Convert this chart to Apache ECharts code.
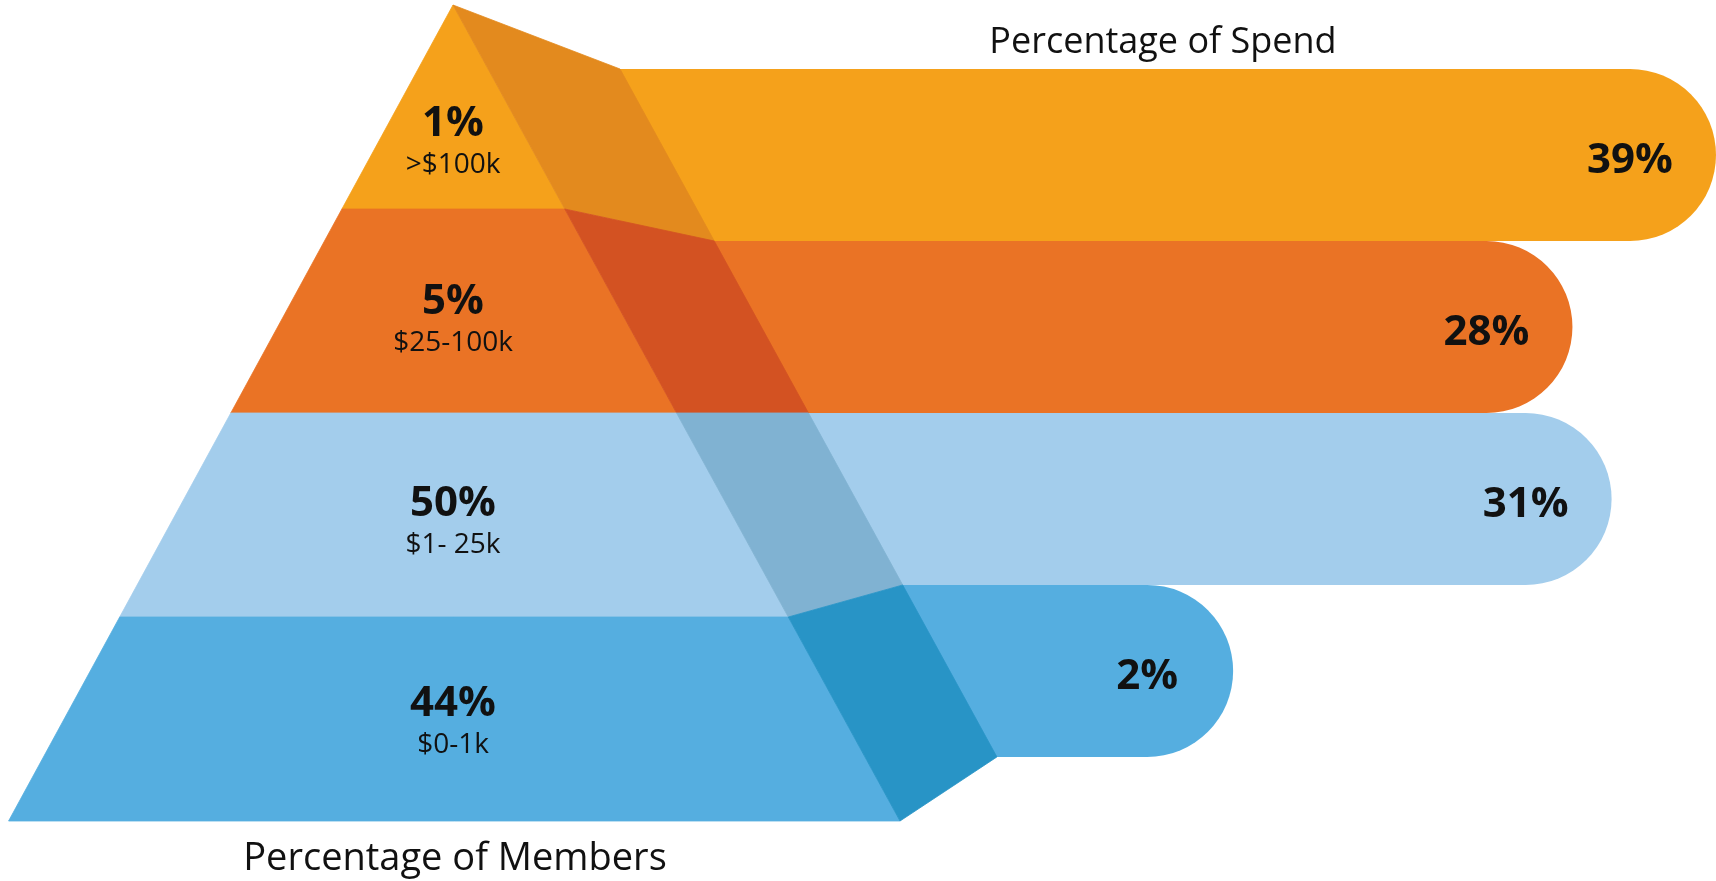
<!DOCTYPE html>
<html>
<head>
<meta charset="utf-8">
<script src="https://cdn.jsdelivr.net/npm/echarts@6/dist/echarts.min.js"></script>
<style>
html, body { margin: 0; padding: 0; background: #ffffff; }
#chart { width: 1716px; height: 881px; }
</style>
</head>
<body>
<div id="chart"></div>
<script>
// ---------------- data ----------------
const tierRanges = ['>$100k', '$25-100k', '$1- 25k', '$0-1k'];
const memberPct = [1, 5, 50, 44];
const spendPct = [39, 28, 31, 2];
const memberTitle = 'Percentage of Members';
const spendTitle = 'Percentage of Spend';

// ---------------- styles / layout ----------------
const frontColors = ['#F5A11B', '#EA7325', '#A3CDEC', '#55AEE0'];
const sideColors = ['#E38A1E', '#D35222', '#80B2D2', '#2894C6'];
const FONT = "'Open Sans', 'DejaVu Sans', sans-serif";
const TEXT_COLOR = '#111111';
// per-tier vertical nudge of the member labels (pixels)
const memberLabelShift = [28, 2, 0, -4];

// pyramid shape: x as fractions of the plot width, back plane in tier-axis levels
const SHAPE = {
  apex: 0.264, baseLeft: 0.005, baseRight: 0.5245,
  depth: 0.0769, backTop: 0.3137, backScale: 0.8431
};

function geom(params, api) {
  const cs = params.coordSys;
  const yAt = l => api.coord([0, l])[1];
  const y0 = yAt(0), y4 = yAt(4);
  const ax = cs.x + SHAPE.apex * cs.width;
  const lx = cs.x + SHAPE.baseLeft * cs.width;
  const rx = cs.x + SHAPE.baseRight * cs.width;
  const dx = SHAPE.depth * cs.width;
  const t = y => (y - y0) / (y4 - y0);
  return {
    yFront: l => yAt(l),
    yBack: l => yAt(SHAPE.backTop + SHAPE.backScale * l),
    left: y => ax + (lx - ax) * t(y),
    right: y => ax + (rx - ax) * t(y),
    back: y => ax + (rx - ax) * t(y) + dx,
    apexX: ax
  };
}

const chart = echarts.init(document.getElementById('chart'), null, { renderer: 'canvas' });

const option = {
  animation: false,
  backgroundColor: '#ffffff',
  grid: { left: 0, right: 0, top: 5, bottom: 60, containLabel: false },
  xAxis: { type: 'value', min: -92.49, max: 39.0, show: false },
  yAxis: { type: 'value', min: 0, max: 4, inverse: true, show: false },
  graphic: [
    {
      type: 'text', x: 1163, y: 43, z: 10,
      style: { text: spendTitle, fill: TEXT_COLOR, fontFamily: FONT, fontSize: 36, align: 'center', verticalAlign: 'middle' }
    },
    {
      type: 'text', x: 455, y: 859, z: 10,
      style: { text: memberTitle, fill: TEXT_COLOR, fontFamily: FONT, fontSize: 38, align: 'center', verticalAlign: 'middle' }
    }
  ],
  series: [
    {
      name: 'Spend',
      type: 'custom',
      coordinateSystem: 'cartesian2d',
      z: 1,
      encode: { x: 0, y: 1 },
      data: spendPct.map((v, i) => [v, i]),
      renderItem: function (params, api) {
        const g = geom(params, api);
        const i = api.value(1);
        const y0 = g.yBack(i), y1 = g.yBack(i + 1);
        const h = y1 - y0;
        const xEnd = api.coord([api.value(0), 0])[0];
        const xStart = g.back(y0);
        return {
          type: 'group',
          children: [
            {
              type: 'rect',
              shape: { x: xStart, y: y0, width: xEnd - xStart, height: h, r: [0, h / 2, h / 2, 0] },
              style: { fill: frontColors[i] }
            },
            {
              type: 'text',
              x: xEnd - h / 2, y: (y0 + y1) / 2 + 6,
              style: {
                text: api.value(0) + '%', fill: TEXT_COLOR, fontFamily: FONT,
                fontSize: 42, fontWeight: 'bold', align: 'center', verticalAlign: 'middle'
              }
            }
          ]
        };
      }
    },
    {
      name: 'Members',
      type: 'custom',
      coordinateSystem: 'cartesian2d',
      z: 2,
      encode: { x: 0, y: 1 },
      data: memberPct.map((v, i) => [0, i, v]),
      renderItem: function (params, api) {
        const g = geom(params, api);
        const i = api.value(1);
        const f0 = g.yFront(i), f1 = g.yFront(i + 1);
        const b0 = g.yBack(i), b1 = g.yBack(i + 1);
        const front = [[g.left(f0), f0], [g.right(f0), f0], [g.right(f1), f1], [g.left(f1), f1]];
        const side = [[g.right(f0), f0], [g.back(b0), b0], [g.back(b1), b1], [g.right(f1), f1]];
        const mid = (f0 + f1) / 2 + memberLabelShift[i];
        return {
          type: 'group',
          children: [
            { type: 'polygon', shape: { points: front }, style: { fill: frontColors[i], stroke: frontColors[i], lineWidth: 0.8 } },
            { type: 'polygon', shape: { points: side }, style: { fill: sideColors[i], stroke: sideColors[i], lineWidth: 0.8 } },
            {
              type: 'text', x: g.apexX, y: mid - 11,
              style: {
                text: api.value(2) + '%', fill: TEXT_COLOR, fontFamily: FONT,
                fontSize: 42, fontWeight: 'bold', align: 'center', verticalAlign: 'middle'
              }
            },
            {
              type: 'text', x: g.apexX, y: mid + 30,
              style: {
                text: tierRanges[i], fill: TEXT_COLOR, fontFamily: FONT,
                fontSize: 28, align: 'center', verticalAlign: 'middle'
              }
            }
          ]
        };
      }
    }
  ]
};

chart.setOption(option);
</script>
</body>
</html>
